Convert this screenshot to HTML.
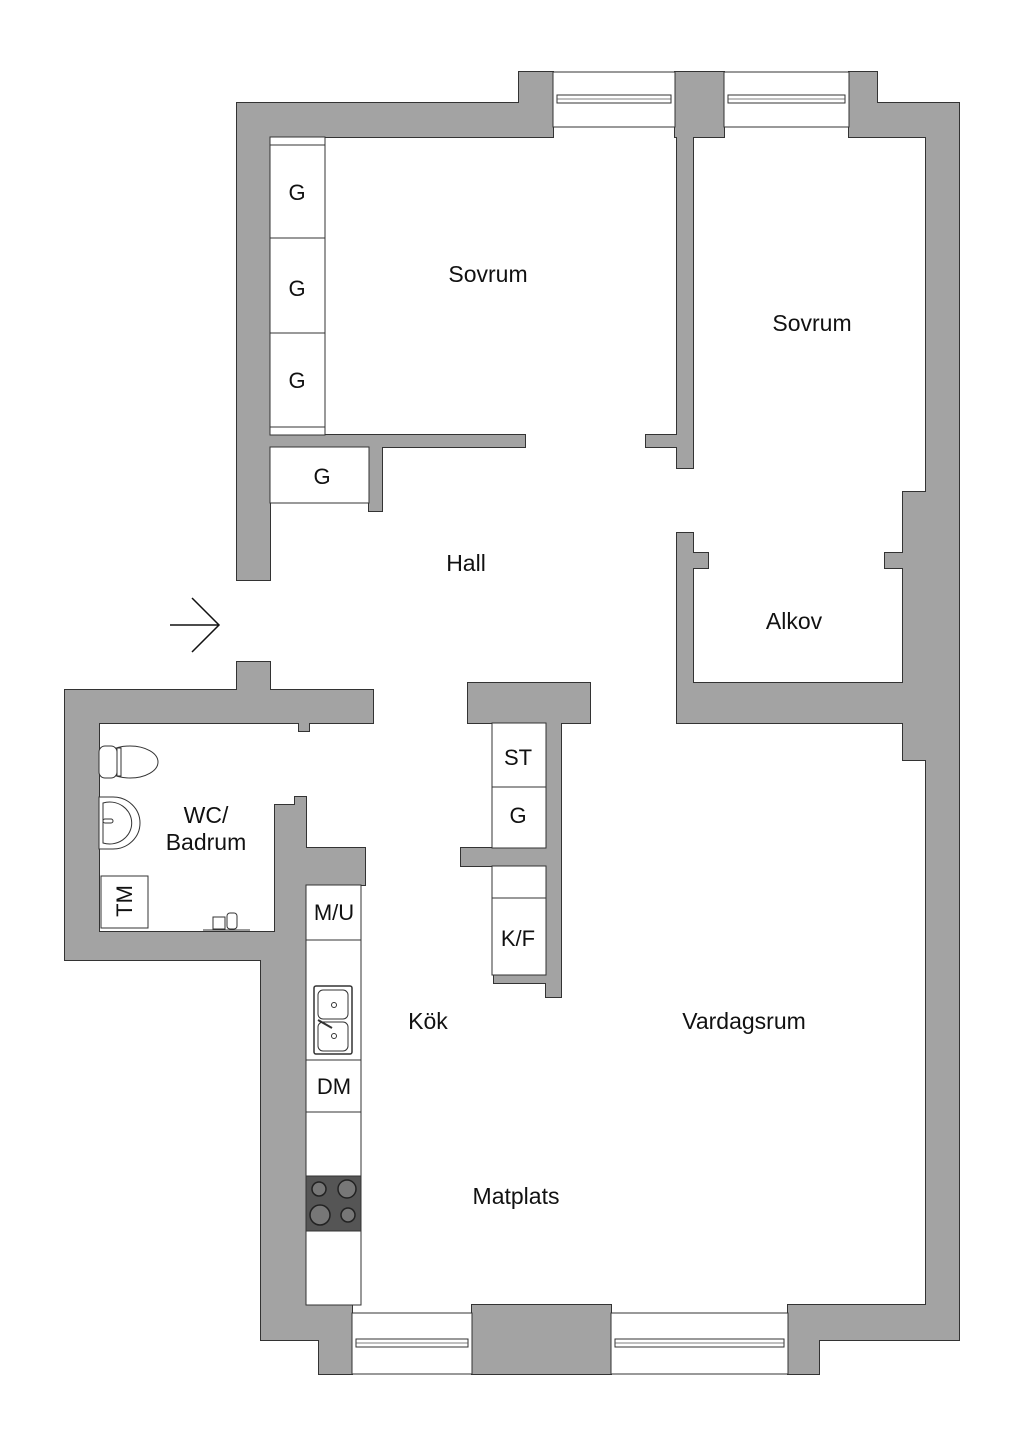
<!DOCTYPE html>
<html><head><meta charset="utf-8"><style>
html,body{margin:0;padding:0;background:#fff;}
svg{display:block;}
text{font-family:"Liberation Sans",sans-serif;fill:#111;}
</style></head><body>
<svg width="1024" height="1448" viewBox="0 0 1024 1448" xmlns="http://www.w3.org/2000/svg">
<defs>
<g id="walls">
<rect x="237" y="103" width="316" height="34"/>
<rect x="519" y="72" width="34" height="65"/>
<rect x="675" y="72" width="49" height="65"/>
<rect x="849" y="72" width="28" height="65"/>
<rect x="849" y="103" width="110" height="34"/>
<rect x="926" y="103" width="33" height="1237"/>
<rect x="903" y="492" width="56" height="268"/>
<rect x="885" y="553" width="30" height="15"/>
<rect x="237" y="103" width="33" height="477"/>
<rect x="237" y="662" width="33" height="40"/>
<rect x="677" y="137" width="16" height="331"/>
<rect x="646" y="435" width="40" height="12"/>
<rect x="270" y="435" width="255" height="12"/>
<rect x="369" y="440" width="13" height="71"/>
<rect x="677" y="533" width="16" height="190"/>
<rect x="685" y="553" width="23" height="15"/>
<rect x="677" y="683" width="240" height="40"/>
<rect x="65" y="690" width="308" height="33"/>
<rect x="299" y="715" width="10" height="16"/>
<rect x="65" y="690" width="34" height="270"/>
<rect x="65" y="932" width="241" height="28"/>
<rect x="275" y="805" width="31" height="155"/>
<rect x="295" y="797" width="11" height="15"/>
<rect x="275" y="848" width="90" height="37"/>
<rect x="261" y="932" width="45" height="408"/>
<rect x="468" y="683" width="122" height="40"/>
<rect x="546" y="715" width="15" height="282"/>
<rect x="461" y="848" width="90" height="18"/>
<rect x="494" y="975" width="60" height="8"/>
<rect x="261" y="1305" width="91" height="35"/>
<rect x="319" y="1305" width="33" height="69"/>
<rect x="472" y="1305" width="139" height="69"/>
<rect x="788" y="1305" width="171" height="35"/>
<rect x="788" y="1305" width="31" height="69"/>
</g>
</defs>
<use href="#walls" fill="#a3a3a3" stroke="#333" stroke-width="2"/>
<use href="#walls" fill="#a3a3a3"/>

<g fill="#fff" stroke="#333" stroke-width="1">
<rect x="553" y="72" width="122" height="55"/>
<rect x="724" y="72" width="125" height="55"/>
<rect x="352" y="1313" width="120" height="61"/>
<rect x="611" y="1313" width="177" height="61"/>
<rect x="557" y="95" width="114" height="8"/>
<rect x="728" y="95" width="117" height="8"/>
<rect x="356" y="1339" width="112" height="8"/>
<rect x="615" y="1339" width="169" height="8"/>
</g>
<g stroke="#555" stroke-width="0.8">
<line x1="557" y1="99" x2="671" y2="99"/><line x1="728" y1="99" x2="845" y2="99"/>
<line x1="356" y1="1343" x2="468" y2="1343"/><line x1="615" y1="1343" x2="784" y2="1343"/>
</g>

<g fill="#fff" stroke="#333" stroke-width="1">
<rect x="270" y="137" width="55" height="298"/>
<rect x="270" y="447" width="99" height="56"/>
<rect x="492" y="723" width="54" height="125"/>
<rect x="492" y="866" width="54" height="109"/>
<rect x="306" y="885" width="55" height="420"/>
<rect x="101" y="876" width="47" height="52"/>
</g>
<g stroke="#333" stroke-width="1">
<line x1="270" y1="145" x2="325" y2="145"/>
<line x1="270" y1="238" x2="325" y2="238"/>
<line x1="270" y1="333" x2="325" y2="333"/>
<line x1="270" y1="427" x2="325" y2="427"/>
<line x1="492" y1="787" x2="546" y2="787"/>
<line x1="492" y1="898" x2="546" y2="898"/>
<line x1="306" y1="940" x2="361" y2="940"/>
<line x1="306" y1="1060" x2="361" y2="1060"/>
<line x1="306" y1="1112" x2="361" y2="1112"/>
<line x1="306" y1="1231" x2="361" y2="1231"/>
</g>
<rect x="306" y="1176" width="55" height="55" fill="#555" stroke="#333"/>
<g fill="#777" stroke="#222" stroke-width="1.5">
<circle cx="319" cy="1189" r="7"/><circle cx="347" cy="1189" r="9"/>
<circle cx="320" cy="1215" r="10"/><circle cx="348" cy="1215" r="7"/>
</g>
<rect x="314" y="986" width="38" height="68" rx="2" fill="#fff" stroke="#333" stroke-width="1.5"/>
<rect x="318" y="990" width="30" height="29" rx="5" fill="#fff" stroke="#333"/>
<rect x="318" y="1022" width="30" height="29" rx="5" fill="#fff" stroke="#333"/>
<circle cx="334" cy="1005" r="2.5" fill="none" stroke="#333"/>
<circle cx="334" cy="1036" r="2.5" fill="none" stroke="#333"/>
<line x1="318" y1="1020" x2="332" y2="1028" stroke="#333" stroke-width="2"/>

<g fill="#fff" stroke="#333" stroke-width="1">
<ellipse cx="130" cy="762" rx="28" ry="16"/>
<rect x="99" y="746" width="18" height="32" rx="6"/>
<rect x="117" y="748" width="4" height="28"/>
<path d="M99 797 H113 A27 26 0 0 1 113 849 H99 Z"/>
<path d="M103 803 A22 21 0 1 1 103 843 Z"/>
<rect x="103" y="819" width="10" height="4" rx="2"/>
<rect x="213" y="917" width="12" height="12"/>
<rect x="227" y="913" width="10" height="16" rx="3"/>
</g>
<line x1="203" y1="930" x2="250" y2="930" stroke="#333"/>

<g stroke="#111" stroke-width="1.5" fill="none">
<line x1="170" y1="625" x2="219" y2="625"/>
<polyline points="192,598 219,625 192,652"/>
</g>

<g font-size="23" text-anchor="middle">
<text x="488" y="282">Sovrum</text>
<text x="812" y="331">Sovrum</text>
<text x="466" y="571">Hall</text>
<text x="794" y="629">Alkov</text>
<text x="206" y="823">WC/</text>
<text x="206" y="850">Badrum</text>
<text x="428" y="1029">Kök</text>
<text x="744" y="1029">Vardagsrum</text>
<text x="516" y="1204">Matplats</text>
</g>
<g font-size="22" text-anchor="middle">
<text x="297" y="200">G</text>
<text x="297" y="296">G</text>
<text x="297" y="388">G</text>
<text x="322" y="484">G</text>
<text x="518" y="765">ST</text>
<text x="518" y="823">G</text>
<text x="518" y="946">K/F</text>
<text x="334" y="920">M/U</text>
<text x="334" y="1094">DM</text>
<text x="0" y="0" transform="translate(132,901) rotate(-90)">TM</text>
</g>
</svg>
</body></html>
